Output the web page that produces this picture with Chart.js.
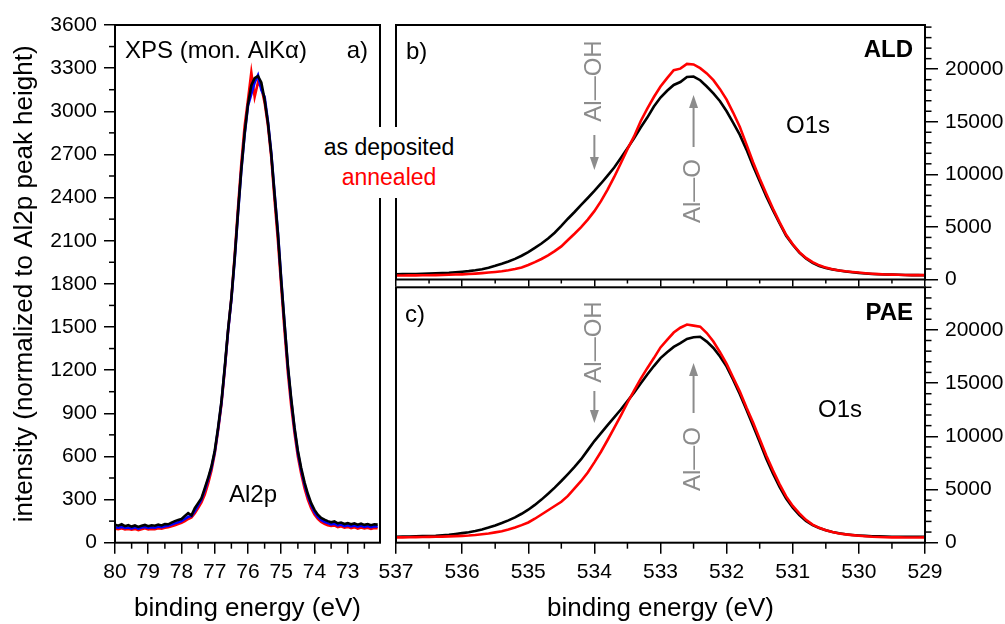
<!DOCTYPE html>
<html>
<head>
<meta charset="utf-8">
<script src="https://cdn.jsdelivr.net/npm/chart.js@4.4.1/dist/chart.umd.min.js"></script>
<style>
  html, body { margin: 0; padding: 0; background: #fff; }
  #wrap { position: relative; width: 1005px; height: 624px; overflow: hidden; font-family: 'Liberation Sans', Arial, sans-serif; }
  #wrap canvas { position: absolute; left: 0; top: 0; }
  #legend { position: absolute; left: 316px; top: 127px; width: 146px; height: 71px; background: #fff;
            padding-top: 5px; box-sizing: border-box; text-align: center; font-size: 23px; line-height: 30px; z-index: 5; }
</style>
</head>
<body>
<div id="wrap">
  <canvas id="chartA" width="1005" height="624"></canvas>
  <canvas id="chartB" width="1005" height="624"></canvas>
  <canvas id="chartC" width="1005" height="624"></canvas>
  <div id="legend"><div style="color:#000">as deposited</div><div style="color:#ff0000">annealed</div></div>
</div>
<script>
// ---- Al2p (panel a) ----
const al2pEnergy = [80.0,79.9,79.8,79.7,79.6,79.5,79.4,79.3,79.2,79.1,79.0,78.9,78.8,78.7,78.6,78.5,78.4,78.3,78.2,78.1,
  78.0,77.9,77.8,77.7,77.6,77.5,77.4,77.3,77.2,77.1,77.0,76.9,76.8,76.7,76.6,76.5,76.4,76.3,76.2,76.1,
  76.0,75.9,75.8,75.7,75.6,75.5,75.4,75.3,75.2,75.1,75.0,74.9,74.8,74.7,74.6,74.5,74.4,74.3,74.2,74.1,
  74.0,73.9,73.8,73.7,73.6,73.5,73.4,73.3,73.2,73.1,73.0,72.9,72.8,72.7,72.6,72.5,72.4,72.3,72.2,72.1];
const al2pBlack = [125,118,128,115,122,112,120,110,118,124, 115,121,118,126,120,130,128,140,150,158,
  165,185,205,190,240,275,310,380,450,530, 640,800,980,1220,1480,1700,1980,2300,2600,2850,
  3050,3180,3230,3245,3200,3080,2920,2700,2420,2150, 1820,1520,1230,1000,800,640,520,420,340,275,
  228,195,172,160,150,142,148,135,140,130, 136,128,134,125,132,124,130,122,128,126];
const al2pBlue = [108,104,110,102,106,100,108,98,105,110, 103,107,104,112,108,115,118,126,135,142,
  150,165,180,185,220,260,300,365,440,520, 630,790,970,1210,1470,1690,1970,2290,2590,2840,
  3040,3120,3200,3250,3150,3100,2930,2710,2430,2160, 1830,1520,1220,990,790,625,505,405,325,262,
  212,180,158,146,136,128,132,120,126,116, 122,114,120,112,118,110,116,108,114,112];
const al2pRed = [98,94,100,92,96,90,96,88,94,100, 92,96,94,100,98,104,108,114,122,130,
  138,150,165,175,205,240,280,335,410,500, 620,780,960,1200,1470,1700,2000,2330,2640,2900,
  3080,3270,3100,3200,3170,3060,2900,2680,2380,2100, 1780,1470,1180,950,760,600,480,380,300,240,
  195,165,145,132,122,116,120,108,114,104, 110,102,108,98,106,100,104,96,102,100];
const al2pXTicks = [80,79,78,77,76,75,74,73];
const al2pYTicks = [0,300,600,900,1200,1500,1800,2100,2400,2700,3000,3300,3600];

// ---- O1s (panels b, c) ----
const o1sEnergy = [537.0,536.9,536.8,536.7,536.6,536.5,536.4,536.3,536.2,536.1,
  536.0,535.9,535.8,535.7,535.6,535.5,535.4,535.3,535.2,535.1,
  535.0,534.9,534.8,534.7,534.6,534.5,534.4,534.3,534.2,534.1,
  534.0,533.9,533.8,533.7,533.6,533.5,533.4,533.3,533.2,533.1,
  533.0,532.9,532.8,532.7,532.6,532.5,532.4,532.3,532.2,532.1,
  532.0,531.9,531.8,531.7,531.6,531.5,531.4,531.3,531.2,531.1,
  531.0,530.9,530.8,530.7,530.6,530.5,530.4,530.3,530.2,530.1,
  530.0,529.9,529.8,529.7,529.6,529.5,529.4,529.3,529.2,529.1,529.0];
const aldDeposited = [500,510,520,530,545,560,585,610,640,690,
  740,800,880,980,1120,1300,1500,1720,1960,2260,
  2600,3000,3420,3900,4450,5100,5780,6420,7100,7750,
  8420,9130,9880,10650,11560,12480,13420,14450,15400,16450,
  17300,17950,18500,18780,19250,19300,18950,18350,17700,16950,
  16000,14900,13750,12350,10800,9350,7900,6600,5350,4150,
  3300,2550,2000,1580,1280,1100,960,860,760,690,
  620,570,530,500,480,460,445,430,420,415,410];
const aldAnnealed = [380,385,390,395,400,410,420,435,450,470,
  490,520,560,610,660,720,790,880,1000,1150,
  1380,1650,1950,2300,2700,3150,3750,4350,4980,5700,
  6500,7450,8550,9750,11050,12400,13600,15050,16250,17350,
  18350,19150,19900,20050,20500,20450,20100,19600,18950,18100,
  17100,15850,14500,12850,11150,9600,8150,6750,5450,4250,
  3350,2600,2050,1650,1350,1130,980,860,780,720,
  660,600,550,510,480,460,445,430,420,415,420];
const paeDeposited = [560,570,585,600,615,635,660,700,750,820,
  900,990,1100,1250,1420,1620,1850,2100,2380,2720,
  3100,3550,4050,4600,5180,5800,6450,7120,7850,8700,
  9550,10300,11050,11780,12520,13300,14100,14950,15800,16600,
  17350,17900,18400,18750,19150,19300,19350,18900,18300,17500,
  16550,15300,13950,12500,11000,9450,7900,6500,5250,4150,
  3300,2600,2050,1650,1380,1170,1000,880,790,730,
  680,640,610,590,575,565,560,555,555,560,560];
const paeAnnealed = [500,505,510,520,530,545,560,575,595,615,
  640,670,720,790,870,970,1080,1230,1420,1650,
  1900,2250,2650,3050,3450,3850,4400,5100,5800,6600,
  7550,8550,9650,10800,11950,13150,14300,15400,16400,17350,
  18350,19050,19750,20200,20500,20400,20300,19700,18900,17900,
  16800,15500,14200,12700,11300,9750,8200,6800,5500,4350,
  3450,2750,2150,1700,1400,1180,1000,870,780,710,
  650,600,560,535,515,505,500,495,490,495,500];
const o1sXTicks = [537,536,535,534,533,532,531,530,529];
const o1sYTicks = [0,5000,10000,15000,20000];

const FONT = "'Liberation Sans', Arial, sans-serif";
const tickFont = { family: FONT, size: 21 };
const titleFont = { family: FONT, size: 26 };
const GRAY = '#8c8c8c';

function pts(xs, ys) { return xs.map((x, i) => ({ x: x, y: ys[i] })); }

// frame around the plot area
const frame = {
  id: 'frame',
  afterDatasetsDraw(chart) {
    const a = chart.chartArea, ctx = chart.ctx;
    ctx.save();
    ctx.strokeStyle = '#000';
    ctx.lineWidth = 2;
    ctx.strokeRect(a.left, a.top, a.right - a.left, a.bottom - a.top);
    ctx.restore();
  }
};

// shorter minor ticks between the labelled ones
const minorTicks = {
  id: 'minorTicks',
  afterDraw(chart, args, opts) {
    const a = chart.chartArea, ctx = chart.ctx;
    ctx.save();
    ctx.strokeStyle = '#000';
    ctx.lineWidth = 1.5;
    (opts.list || []).forEach(m => {
      const s = chart.scales[m.axis];
      m.values.forEach(v => {
        const p = s.getPixelForValue(v);
        ctx.beginPath();
        if (s.isHorizontal()) {
          ctx.moveTo(p, a.bottom); ctx.lineTo(p, a.bottom + m.len);
        } else if (s.position === 'left') {
          ctx.moveTo(a.left, p); ctx.lineTo(a.left - m.len, p);
        } else {
          ctx.moveTo(a.right, p); ctx.lineTo(a.right + m.len, p);
        }
        ctx.stroke();
      });
    });
    ctx.restore();
  }
};

// text labels and arrows inside the panels
const notes = {
  id: 'notes',
  afterDraw(chart, args, opts) {
    const ctx = chart.ctx, xs = chart.scales.x;
    ctx.save();
    (opts.texts || []).forEach(t => {
      ctx.font = (t.bold ? 'bold ' : '') + (t.size || 24) + 'px ' + FONT;
      ctx.fillStyle = t.color || '#000';
      ctx.textBaseline = 'middle';
      ctx.textAlign = t.align || 'left';
      const x = t.e !== undefined ? xs.getPixelForValue(t.e) : t.x;
      ctx.save();
      ctx.translate(x, t.y);
      if (t.rot) ctx.rotate(-Math.PI / 2);
      ctx.fillText(t.text, 0, 0);
      ctx.restore();
    });
    (opts.arrows || []).forEach(r => {
      const x = xs.getPixelForValue(r.e);
      const dir = r.tip > r.tail ? 1 : -1;
      ctx.strokeStyle = GRAY; ctx.fillStyle = GRAY; ctx.lineWidth = 2;
      ctx.beginPath();
      ctx.moveTo(x, r.tail); ctx.lineTo(x, r.tip - dir * 10);
      ctx.stroke();
      ctx.beginPath();
      ctx.moveTo(x, r.tip); ctx.lineTo(x - 4.5, r.tip - dir * 13); ctx.lineTo(x + 4.5, r.tip - dir * 13);
      ctx.closePath(); ctx.fill();
    });
    ctx.restore();
  }
};

function line(data, color) {
  return { data: data, borderColor: color, borderWidth: 2.6, pointRadius: 0, tension: 0, fill: false };
}

function xAxis(opts) {
  return {
    type: 'linear', position: 'bottom', reverse: true, min: opts.min, max: opts.max,
    afterBuildTicks: s => { s.ticks = opts.ticks.map(v => ({ value: v })); },
    afterFit: s => { s.height = opts.height; },
    ticks: { display: opts.labels, autoSkip: false, maxRotation: 0, padding: 6, color: '#000', font: tickFont,
             callback: v => String(v) },
    grid: { drawOnChartArea: false, drawTicks: true, tickLength: opts.tickLength, color: '#000', lineWidth: 1.5 },
    border: { display: false },
    title: { display: !!opts.title, text: opts.title || '', color: '#000', font: titleFont, padding: { top: 0, bottom: 0 } }
  };
}

function yAxis(opts) {
  return {
    type: 'linear', position: opts.position, min: opts.min, max: opts.max,
    afterBuildTicks: s => { s.ticks = opts.ticks.map(v => ({ value: v })); },
    afterFit: s => { s.width = opts.width; },
    ticks: { autoSkip: false, padding: 7, color: '#000', font: tickFont, callback: v => String(v) },
    grid: { drawOnChartArea: false, drawTicks: true, tickLength: opts.tickLength, color: '#000', lineWidth: 1.5 },
    border: { display: false },
    title: { display: !!opts.title, text: opts.title || '', color: '#000', font: titleFont, padding: { top: 9, bottom: 0 } }
  };
}

const halfSteps = ticks => ticks.slice(1).map((v, i) => (v + ticks[i]) / 2);
const between = (step, max, major) => {
  const out = [];
  for (let v = step; v <= max; v += step) if (v % major !== 0) out.push(v);
  return out;
};

const common = {
  responsive: false, maintainAspectRatio: false, animation: false, devicePixelRatio: 1, events: []
};

// panel a
new Chart(document.getElementById('chartA'), {
  type: 'line',
  data: { datasets: [
    line(pts(al2pEnergy, al2pBlack), '#000000'),
    line(pts(al2pEnergy, al2pBlue), '#0000ff'),
    line(pts(al2pEnergy, al2pRed), '#ff0000')
  ] },
  options: Object.assign({}, common, {
    layout: { padding: { left: 0, right: 625, top: 25, bottom: 0 } },
    scales: {
      x: xAxis({ min: 72.03, max: 80, ticks: al2pXTicks, height: 81.3, labels: true, tickLength: 11,
                 title: 'binding energy (eV)' }),
      y: yAxis({ position: 'left', min: 0, max: 3600, ticks: al2pYTicks, width: 115, tickLength: 11,
                 title: 'intensity (normalized to Al2p peak height)' })
    },
    plugins: {
      legend: { display: false }, tooltip: { enabled: false },
      minorTicks: { list: [
        { axis: 'x', values: halfSteps(al2pXTicks).concat([72.5]), len: 6 },
        { axis: 'y', values: halfSteps(al2pYTicks), len: 6 }
      ] },
      notes: { texts: [
        { text: 'XPS (mon. AlK\u03b1)', x: 125, y: 51 },
        { text: 'a)', x: 368, y: 51, align: 'right' },
        { text: 'Al2p', x: 253, y: 495, align: 'center' }
      ] }
    }
  }),
  plugins: [frame, minorTicks, notes]
});

// panels b and c share the same layout
function o1sPanel(id, deposited, annealed, cfg) {
  return new Chart(document.getElementById(id), {
    type: 'line',
    data: { datasets: [
      line(pts(o1sEnergy, annealed), '#ff0000'),
      line(pts(o1sEnergy, deposited), '#000000')
    ] },
    options: Object.assign({}, common, {
      layout: { padding: cfg.padding },
      scales: {
        x: xAxis({ min: 529, max: 537, ticks: o1sXTicks, height: cfg.xHeight, labels: cfg.labels,
                   tickLength: cfg.xTick, title: cfg.title }),
        y: yAxis({ position: 'right', min: 0, max: cfg.yMax, ticks: o1sYTicks, width: 80, tickLength: 13 })
      },
      plugins: {
        legend: { display: false }, tooltip: { enabled: false },
        minorTicks: { list: [
          { axis: 'x', values: halfSteps(o1sXTicks), len: cfg.xMinor },
          { axis: 'y', values: between(1000, cfg.yMax, 5000), len: 6.5 }
        ] },
        notes: cfg.notes
      }
    }),
    plugins: [frame, minorTicks, notes]
  });
}

o1sPanel('chartB', aldDeposited, aldAnnealed, {
  padding: { left: 396, right: 0, top: 25, bottom: 337.5 },
  xHeight: 7, labels: false, xTick: 7, xMinor: 4, title: '', yMax: 24200,
  notes: {
    texts: [
      { text: 'b)', x: 406, y: 52 },
      { text: 'ALD', x: 913, y: 50, align: 'right', bold: true },
      { text: 'O1s', x: 786, y: 126 },
      { text: 'Al\u2014OH', e: 534.0, y: 81, align: 'center', rot: true, color: GRAY },
      { text: 'Al\u2014O', e: 532.5, y: 191, align: 'center', rot: true, color: GRAY }
    ],
    arrows: [
      { e: 534.0, tail: 135, tip: 170 },
      { e: 532.5, tail: 147, tip: 95 }
    ]
  }
});

o1sPanel('chartC', paeDeposited, paeAnnealed, {
  padding: { left: 396, right: 0, top: 287.3, bottom: 0 },
  xHeight: 81.3, labels: true, xTick: 11, xMinor: 6, title: 'binding energy (eV)', yMax: 24000,
  notes: {
    texts: [
      { text: 'c)', x: 405, y: 315 },
      { text: 'PAE', x: 913, y: 313, align: 'right', bold: true },
      { text: 'O1s', x: 818, y: 410 },
      { text: 'Al\u2014OH', e: 534.0, y: 342, align: 'center', rot: true, color: GRAY },
      { text: 'Al\u2014O', e: 532.5, y: 459, align: 'center', rot: true, color: GRAY }
    ],
    arrows: [
      { e: 534.0, tail: 391, tip: 423 },
      { e: 532.5, tail: 413, tip: 363 }
    ]
  }
});
</script>
</body>
</html>
